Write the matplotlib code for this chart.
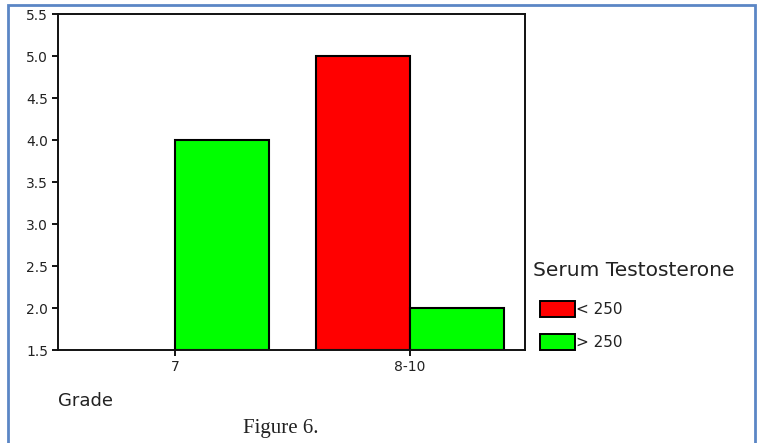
import matplotlib.pyplot as plt
from matplotlib.patches import Rectangle, Patch
import numpy as np

grades = ["7", "8-10"]
low_vals = [np.nan, 5.0]    # < 250
high_vals = [4.0, 2.0]      # > 250
series_labels = ["< 250", "> 250"]
legend_title = "Serum Testosterone"

plt.rcParams["font.family"] = ["DejaVu Sans"]

fig = plt.figure(figsize=(7.58, 4.43), dpi=100)
fig.patch.set_facecolor("white")

# blue frame around the figure
fig.add_artist(Rectangle((8 / 758, -0.05), 747 / 758, 1 - 5 / 443 + 0.05,
                         transform=fig.transFigure, fill=False,
                         edgecolor="#5b86c5", linewidth=2))

ax = fig.add_axes([58 / 758, 1 - 350 / 443, 467 / 758, 336 / 443])

base = 1.5
x = np.arange(len(grades))
w = 0.4
low = np.array(low_vals) - base
high = np.array(high_vals) - base
ax.bar(x - w / 2, low, w, bottom=base, color="#ff0000", edgecolor="black",
       linewidth=1.5, label=series_labels[0])
ax.bar(x + w / 2, high, w, bottom=base, color="#00ff00", edgecolor="black",
       linewidth=1.5, label=series_labels[1])

ax.set_xlim(-0.5, 1.49)
ax.set_ylim(1.5, 5.5)
ax.set_yticks(np.arange(1.5, 5.6, 0.5))
ax.set_yticklabels([f"{v:.1f}" for v in np.arange(1.5, 5.6, 0.5)])
ax.set_xticks(x)
ax.set_xticklabels(grades)
ax.tick_params(axis="both", labelsize=10, length=4, width=1.3, colors="black",
               labelcolor="#222222")
ax.tick_params(axis="y", pad=3)
ax.tick_params(axis="x", pad=3)
for s in ax.spines.values():
    s.set_linewidth(1.4)
    s.set_color("#111111")

fig.text(58 / 758, 1 - 401 / 443, "Grade", fontsize=13, va="center", ha="left",
         color="#222222")
fig.text(243 / 758, 1 - 429 / 443, "Figure 6.", fontsize=15, va="center",
         ha="left", family=["Liberation Serif", "DejaVu Serif"], color="#222222")

fig.text(533 / 758, 1 - 271 / 443, legend_title, fontsize=14.5, va="center",
         ha="left", color="#222222")
handles = [Patch(facecolor="#ff0000", edgecolor="black", linewidth=1.4),
           Patch(facecolor="#00ff00", edgecolor="black", linewidth=1.4)]
leg = fig.legend(handles, series_labels,
                 loc="upper left", bbox_to_anchor=(532 / 758, 1 - 293 / 443),
                 frameon=False, fontsize=11,
                 handlelength=2.3, handleheight=1.25, handletextpad=0.05,
                 labelspacing=1.1, borderaxespad=0, borderpad=0.5)
for t in leg.get_texts():
    t.set_color("#222222")

plt.savefig("out.png", dpi=100)
